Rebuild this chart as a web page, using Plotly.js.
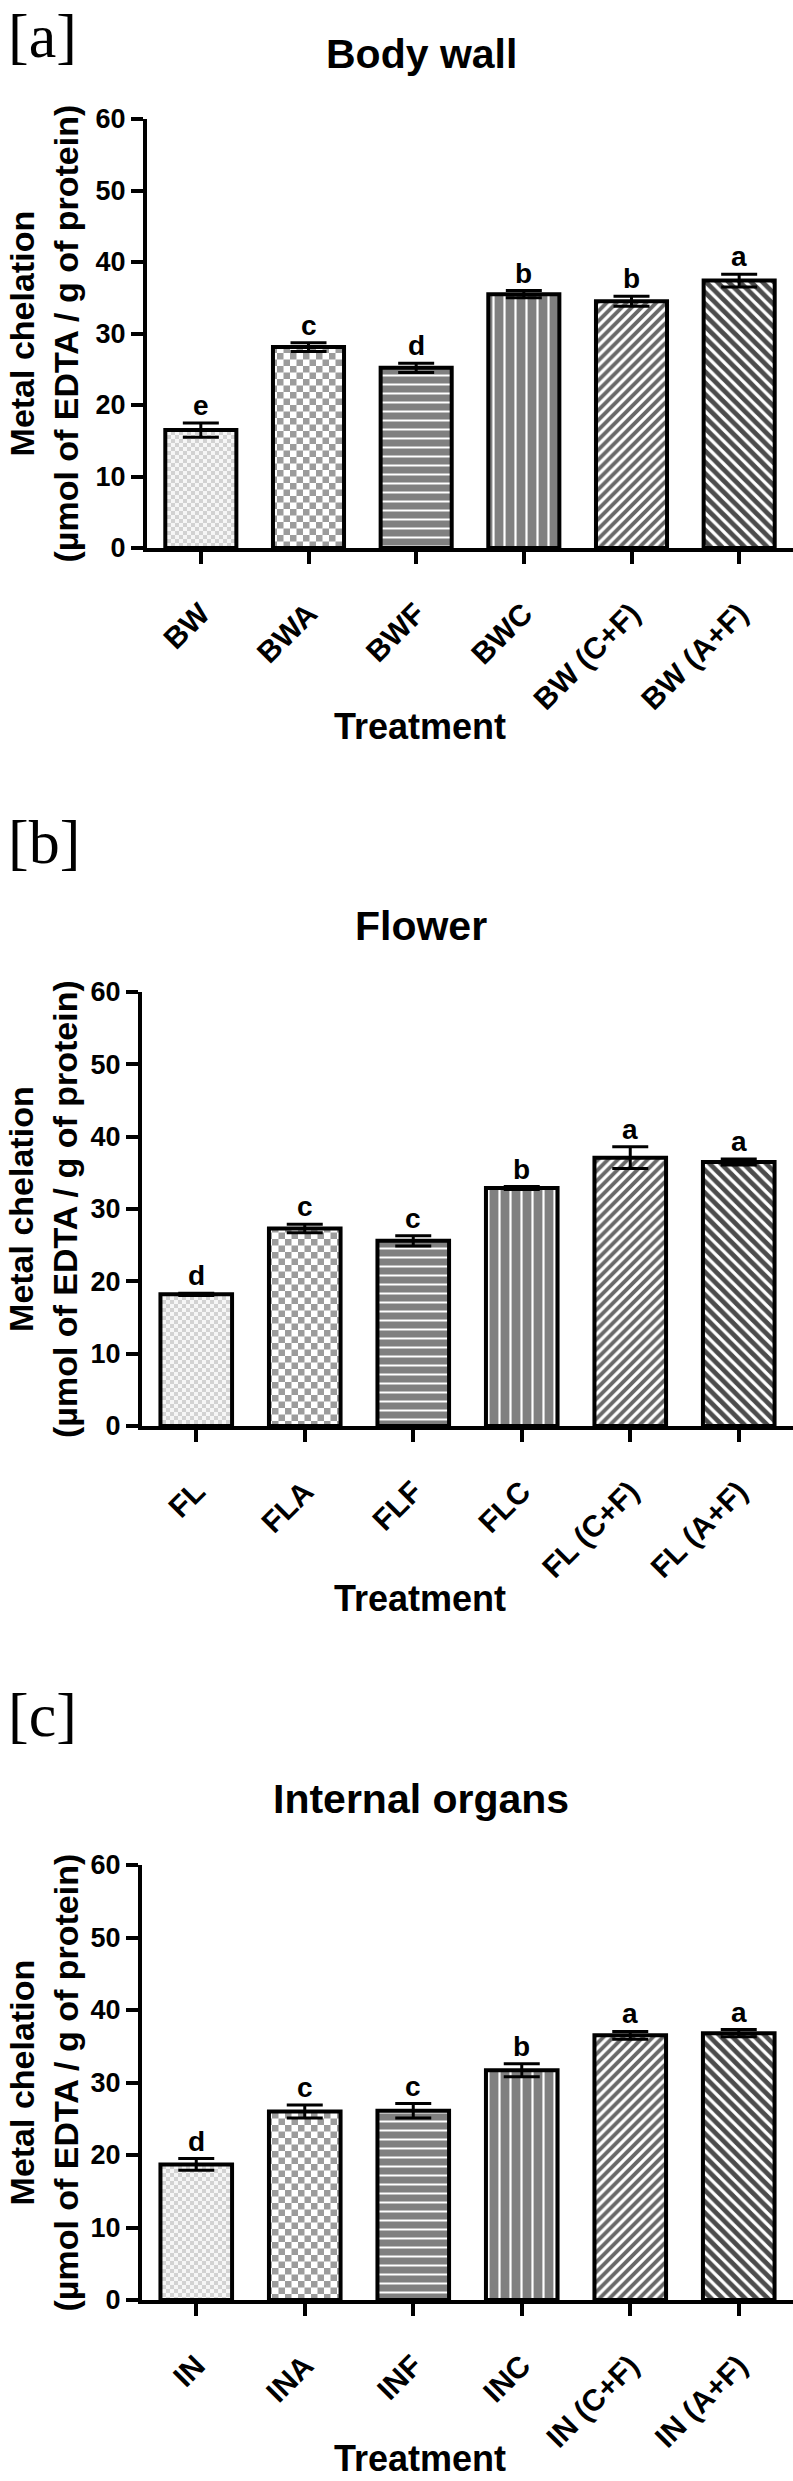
<!DOCTYPE html>
<html>
<head>
<meta charset="utf-8">
<script src="https://cdn.plot.ly/plotly-3.0.1.min.js"></script>
<style>html,body{margin:0;padding:0;background:#fff}#chart{width:793px;height:2481px}</style>
</head>
<body>
<div id="chart"></div>
<script>
// ---------------- data ----------------
const bwCategories = ['BW', 'BWA', 'BWF', 'BWC', 'BW (C+F)', 'BW (A+F)'];
const bwValues = [16.5, 28.1, 25.2, 35.5, 34.5, 37.4];
const bwErrors = [1.0, 0.6, 0.65, 0.5, 0.7, 0.9];
const bwLetters = ['e', 'c', 'd', 'b', 'b', 'a'];

const flCategories = ['FL', 'FLA', 'FLF', 'FLC', 'FL (C+F)', 'FL (A+F)'];
const flValues = [18.2, 27.3, 25.6, 32.9, 37.1, 36.5];
const flErrors = [0.15, 0.6, 0.7, 0.2, 1.5, 0.4];
const flLetters = ['d', 'c', 'c', 'b', 'a', 'a'];

const inCategories = ['IN', 'INA', 'INF', 'INC', 'IN (C+F)', 'IN (A+F)'];
const inValues = [18.7, 26.0, 26.1, 31.7, 36.5, 36.8];
const inErrors = [0.8, 0.9, 1.0, 0.9, 0.55, 0.5];
const inLetters = ['d', 'c', 'c', 'b', 'a', 'a'];

const yTickValues = [0, 10, 20, 30, 40, 50, 60];
const panelTitles = ['Body wall', 'Flower', 'Internal organs'];
const panelTags = ['[a]', '[b]', '[c]'];
const xTitle = 'Treatment';
const yTitle = 'Metal chelation<br>(\u00b5mol of EDTA / g of protein)';

// ---------------- styles ----------------
const patternStyle = {
  shape: ['.', '.', '-', '|', '/', '\\'],
  bgcolor: ['#f6f6f6', '#ffffff', '#808080', '#808080', '#ffffff', '#ffffff'],
  fgcolor: ['#d2d2d2', '#9c9c9c', '#ffffff', '#ffffff', '#686868', '#4c4c4c'],
  size: [8, 13, 9, 11, 7, 8],
  solidity: [0.5, 0.5, 0.22, 0.2, 0.55, 0.6],
  fillmode: 'replace'
};

const W = 793, H = 2481;
const SANS = 'Liberation Sans, Arial, Helvetica, sans-serif';
const SERIF = 'Liberation Serif, Times New Roman, serif';
const py = v => 1 - v / H;

// panel geometry (pixels)
const panels = [
  {x0: 147, top: 119, bottom: 548, tagY: 0, titleY: 54, xtY: 726},
  {x0: 142, top: 992, bottom: 1426, tagY: 842, titleY: 926, xtY: 1598},
  {x0: 142, top: 1865, bottom: 2300, tagY: 1715, titleY: 1799, xtY: null}
];

const datasets = [
  [bwCategories, bwValues, bwErrors, bwLetters],
  [flCategories, flValues, flErrors, flLetters],
  [inCategories, inValues, inErrors, inLetters]
];

const traces = [];
const annotations = [];
const layout = {
  width: W, height: H,
  margin: {l: 0, r: 0, t: 0, b: 0},
  paper_bgcolor: '#ffffff', plot_bgcolor: '#ffffff',
  showlegend: false,
  bargap: 0.34,
  font: {family: SANS, color: '#000'},
  annotations: annotations
};

datasets.forEach((d, i) => {
  const [cats, vals, errs, letters] = d;
  const p = panels[i];
  const sfx = i === 0 ? '' : String(i + 1);
  const xa = 'x' + sfx, ya = 'y' + sfx;
  traces.push({
    type: 'bar', x: cats, y: vals, xaxis: xa, yaxis: ya,
    marker: {color: '#ffffff', line: {color: '#000', width: 4}, pattern: patternStyle},
    error_y: {type: 'data', array: errs, visible: true, color: '#000', thickness: 3, width: 18},
    hoverinfo: 'skip'
  });
  layout['xaxis' + sfx] = {
    domain: [p.x0 / W, 1], anchor: ya, type: 'category', range: [-0.5, 5.5],
    showline: true, linewidth: 4, linecolor: '#000', mirror: false,
    ticks: 'outside', ticklen: 12, tickwidth: 4, tickcolor: '#000',
    tickangle: -45, ticklabelstandoff: 20,
    tickfont: {family: SANS, size: 30, weight: 700, color: '#000'},
    showgrid: false, zeroline: false, fixedrange: true
  };
  layout['yaxis' + sfx] = {
    domain: [py(p.bottom), py(p.top)], anchor: xa, range: [0, 60],
    tickmode: 'array', tickvals: yTickValues,
    showline: true, linewidth: 4, linecolor: '#000',
    ticks: 'outside', ticklen: 12, tickwidth: 4, tickcolor: '#000',
    tickfont: {family: SANS, size: 27, weight: 700, color: '#000'},
    showgrid: false, zeroline: false, fixedrange: true
  };
  // significance letters
  cats.forEach((c, k) => {
    annotations.push({
      xref: xa, yref: ya, x: c, y: vals[k] + errs[k], text: letters[k],
      showarrow: false, yanchor: 'bottom', xanchor: 'center', yshift: 0,
      font: {family: SANS, size: 28, weight: 700, color: '#000'}
    });
  });
  // panel tag
  if (i === 0) {
    annotations.push({xref: 'paper', yref: 'paper', x: 6 / W, y: 1, xanchor: 'left', yanchor: 'top',
      text: panelTags[i], showarrow: false, font: {family: SERIF, size: 62, color: '#000'}});
  } else {
    annotations.push({xref: 'paper', yref: 'paper', x: 6 / W, y: py(p.tagY), xanchor: 'left', yanchor: 'middle',
      text: panelTags[i], showarrow: false, font: {family: SERIF, size: 62, color: '#000'}});
  }
  // title
  annotations.push({xref: 'paper', yref: 'paper', x: 421 / W, y: py(p.titleY), xanchor: 'center', yanchor: 'middle',
    text: panelTitles[i], showarrow: false, font: {family: SANS, size: 41, weight: 700, color: '#000'}});
  // x title
  if (p.xtY !== null) {
    annotations.push({xref: 'paper', yref: 'paper', x: 420 / W, y: py(p.xtY), xanchor: 'center', yanchor: 'middle',
      text: xTitle, showarrow: false, font: {family: SANS, size: 36, weight: 700, color: '#000'}});
  } else {
    annotations.push({xref: 'paper', yref: 'paper', x: 420 / W, y: 0, xanchor: 'center', yanchor: 'bottom',
      text: xTitle, showarrow: false, font: {family: SANS, size: 36, weight: 700, color: '#000'}});
  }
  // y title
  annotations.push({xref: 'paper', yref: 'paper', x: 43 / W, y: py((p.top + p.bottom) / 2), xanchor: 'center', yanchor: 'middle',
    text: yTitle, textangle: -90, showarrow: false,
    font: {family: SANS, size: 34, weight: 700, color: '#000'}});
});

// turn the dot tiles of the first two bars into checkerboard tiles
function checkerTiles(gd) {
  const ns = 'http://www.w3.org/2000/svg';
  gd.querySelectorAll('pattern').forEach(pt => {
    const c = pt.querySelector('circle');
    if (!c) return;
    const w = parseFloat(pt.getAttribute('width'));
    const h = parseFloat(pt.getAttribute('height'));
    const fill = c.getAttribute('fill') || c.style.fill;
    [[0, 0], [w / 2, h / 2]].forEach(([x, y]) => {
      const r = document.createElementNS(ns, 'rect');
      r.setAttribute('x', x); r.setAttribute('y', y);
      r.setAttribute('width', w / 2); r.setAttribute('height', h / 2);
      r.setAttribute('fill', fill);
      pt.appendChild(r);
    });
    c.remove();
  });
}

Plotly.newPlot('chart', traces, layout, {staticPlot: true, displayModeBar: false}).then(checkerTiles);
</script>
</body>
</html>
